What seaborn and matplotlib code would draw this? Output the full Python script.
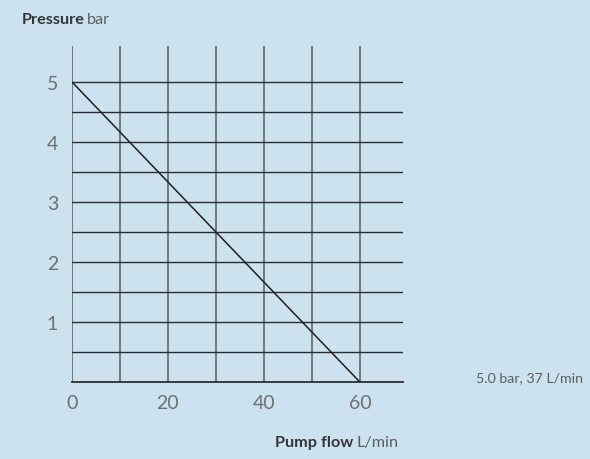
import seaborn as sns
import matplotlib.pyplot as plt
import numpy as np
import pandas as pd

# pump curve: flow (L/min) vs pressure (bar)
flow = [0, 60]
pressure = [5.0, 0.0]
x_ticks = [0, 20, 40, 60]
y_ticks = [1, 2, 3, 4, 5]
note = "5.0 bar, 37 L/min"

bg = "#cce3ef"
txt = "#5a5e63"

sns.set_theme(style="white")
plt.rcParams["font.family"] = ["Lato", "DejaVu Sans"]

fig = plt.figure(figsize=(5.9, 4.6), dpi=100, facecolor=bg)
ax = fig.add_axes([72 / 590, 1 - 383 / 460, (403 - 72) / 590, (383 - 47) / 460])
ax.set_facecolor(bg)

df = pd.DataFrame({"flow": flow, "pressure": pressure})

# grid: grey verticals every 10, dark horizontals every 0.5
for xv in np.arange(0, 61, 10):
    ax.axvline(xv, color="#6b7075", lw=1.3, zorder=1)
for yv in np.arange(0.5, 5.01, 0.5):
    ax.axhline(yv, color="#2b2d30", lw=1.0, zorder=1)

sns.lineplot(data=df, x="flow", y="pressure", ax=ax, color="#1e1f22", lw=1.1, zorder=3)

ax.set_xlim(0, 69)
ax.set_ylim(0, 5.6)
for s in ["top", "right", "left"]:
    ax.spines[s].set_visible(False)
ax.spines["bottom"].set_color("#2b2d30")
ax.spines["bottom"].set_linewidth(1.3)

ax.set_xticks(x_ticks)
ax.set_yticks(y_ticks)
ax.tick_params(axis="both", length=0, labelsize=14, colors="#6c7075")
ax.tick_params(axis="x", pad=9)
ax.tick_params(axis="y", pad=10)
ax.set_xlabel("")
ax.set_ylabel("")

fig.text(22 / 590, 1 - 20 / 460, "Pressure", fontsize=11.7, fontweight="bold",
         color="#333538", va="center", ha="left")
fig.text(87 / 590, 1 - 20 / 460, "bar", fontsize=11.7, color=txt,
         va="center", ha="left")

fig.text(353 / 590, 1 - 443 / 460, "Pump flow", fontsize=11.7, fontweight="bold",
         color="#333538", va="center", ha="right")
fig.text(357 / 590, 1 - 443 / 460, "L/min", fontsize=11.7, color=txt,
         va="center", ha="left")

fig.text(583 / 590, 1 - 378 / 460, note, fontsize=10.2, color=txt,
         va="center", ha="right")

fig.savefig("out.png", dpi=100, facecolor=bg)
